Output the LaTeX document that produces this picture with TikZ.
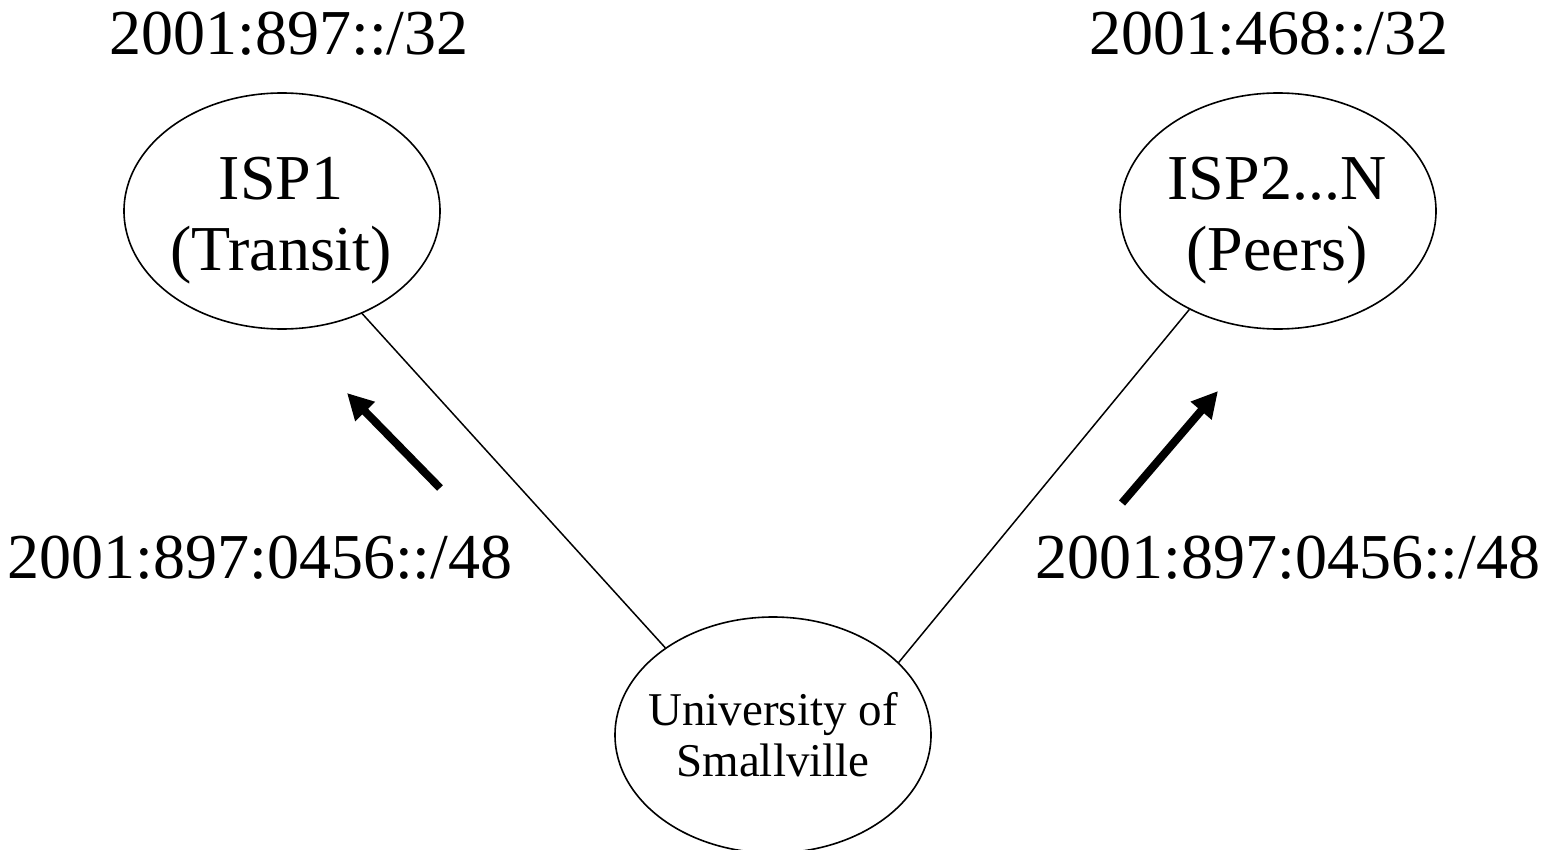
\documentclass[tikz,border=0pt]{standalone}
\usepackage{fontspec}
\setmainfont{Liberation Serif}
\usetikzlibrary{shapes.geometric,arrows.meta}
\begin{document}
\begin{tikzpicture}[x=1pt,y=-1pt,
  cloud/.style={draw, ellipse, line width=1.6pt, minimum width=316pt, minimum height=236pt, inner sep=0pt},
  bigtext/.style={font=\fontsize{64}{71}\selectfont, align=center, inner sep=0pt},
  smalltext/.style={font=\fontsize{47}{51}\selectfont, align=center, inner sep=0pt},
  link/.style={line width=1.5pt},
  announce/.style={line width=8pt, -{Triangle[length=26pt,width=26pt]}}]
\useasboundingbox (0,0) rectangle (1554,850);

% provider and customer networks
\node[cloud] (isp1) at (282,211) {};
\node[bigtext] (isp1t) at (281,221) {ISP1\\(Transit)};
\node[cloud] (isp2) at (1278,211) {};
\node[bigtext] (isp2t) at (1277,221) {ISP2...N\\(Peers)};
\node[cloud] (uni) at (773,735) {};
\node[smalltext] (unit) at (773,735) {University of\\Smallville};

% provider aggregates
\node[bigtext, anchor=base] (agg1) at (289,55) {2001:897::/32};
\node[bigtext, anchor=base] (agg2) at (1269,55) {2001:468::/32};

% announced customer prefix
\node[bigtext, anchor=base] (pfx1) at (260,578) {2001:897:0456::/48};
\node[bigtext, anchor=base] (pfx2) at (1288,578) {2001:897:0456::/48};

% links
\draw[link] (isp1.-52) -- (uni.141);
\draw[link] (isp2.-132) -- (uni.30);

% announcement arrows
\coordinate (a1s) at (440,488);
\coordinate (a1e) at (347,393);
\coordinate (a2s) at (1122,503);
\coordinate (a2e) at (1218,391);
\draw[announce] (a1s) -- (a1e);
\draw[announce] (a2s) -- (a2e);
\end{tikzpicture}
\end{document}
